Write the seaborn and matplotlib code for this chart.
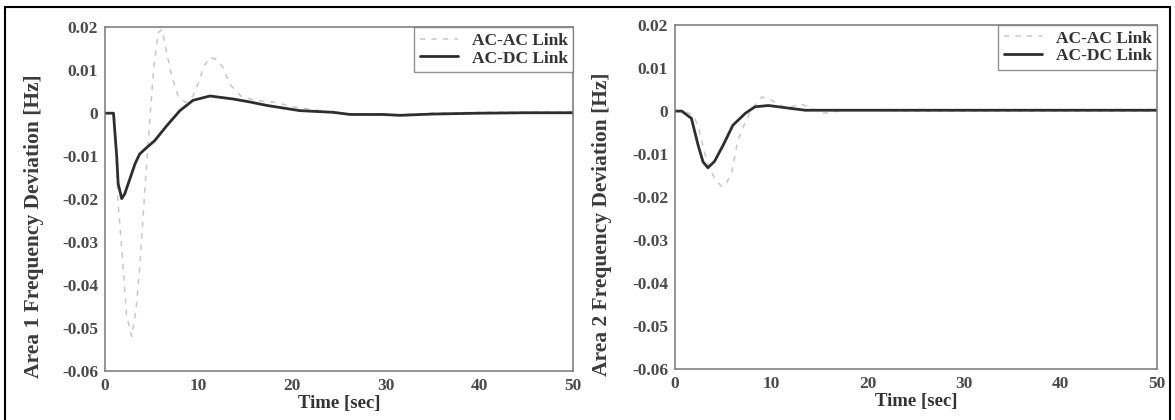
import numpy as np
import pandas as pd
import seaborn as sns
from matplotlib import pyplot as plt
from matplotlib.patches import Rectangle
from matplotlib.ticker import FuncFormatter

# area 1 response
t1_acac = [0, 1.0, 1.4, 1.8, 2.3, 2.85, 3.3, 3.7, 4.3, 4.8, 5.2, 5.7, 6.1, 6.4, 7.1, 7.8, 8.6,
           9.4, 10.1, 10.5, 11.2, 11.9, 12.6, 13.3, 14.5, 16.0, 18.3, 20, 25, 30, 35, 40, 50]
f1_acac = [0, 0, -0.021, -0.032, -0.047, -0.052, -0.046, -0.036, -0.0164, -0.001, 0.0107, 0.0188,
           0.0195, 0.016, 0.0088, 0.004, 0.0025, 0.004, 0.0077, 0.0107, 0.013, 0.0125, 0.0107,
           0.0068, 0.004, 0.003, 0.0025, 0.0015, 0, -0.0005, 0, 0.0002, 0.0003]
t1_acdc = [0, 0.9, 1.25, 1.4, 1.78, 2.1, 2.7, 3.2, 3.7, 4.3, 5.3, 6.6, 8.0, 9.4, 11.2, 13.7,
           15.5, 17.3, 20.8, 24.4, 26.2, 29.7, 31.5, 35, 40, 45, 50]
f1_acdc = [0, 0, -0.0102, -0.0164, -0.0199, -0.0188, -0.015, -0.0118, -0.0095, -0.0083, -0.0064,
           -0.0029, 0.0006, 0.003, 0.004, 0.0033, 0.0026, 0.0018, 0.0006, 0.0002, -0.0003,
           -0.0003, -0.0005, -0.0002, 0, 0.0001, 0.0001]

# area 2 response
t2_acac = [0, 1.0, 1.9, 2.4, 3.3, 4.1, 4.8, 5.3, 5.9, 6.5, 7.3, 8.0, 9.0, 10.0, 11.6, 13.0,
           15.4, 18, 25, 35, 50]
f2_acac = [0, 0, -0.001, -0.0036, -0.0117, -0.0157, -0.0175, -0.017, -0.0141, -0.007, -0.0025,
           0.0006, 0.0033, 0.0025, 0.0006, 0.0017, -0.0005, 0.0003, 0, 0, 0]
t2_acdc = [0, 0.7, 1.7, 2.4, 2.9, 3.4, 4.1, 5.0, 6.0, 7.3, 8.3, 9.7, 11.4, 13.5, 20, 30, 40, 50]
f2_acdc = [0, 0, -0.0017, -0.008, -0.0118, -0.0132, -0.0117, -0.0079, -0.0033, -0.0005, 0.001,
           0.0013, 0.0008, 0.0002, 0.0002, 0.0002, 0.0002, 0.0002]

series_names = ["AC-AC Link", "AC-DC Link"]
ylabels = ["Area 1 Frequency Deviation [Hz]", "Area 2 Frequency Deviation [Hz]"]
yticks = [-0.06, -0.05, -0.04, -0.03, -0.02, -0.01, 0, 0.01, 0.02]
xticks = [0, 10, 20, 30, 40, 50]

sns.set_style("white")
plt.rcParams['font.family'] = ['Liberation Serif', 'DejaVu Serif']

fig = plt.figure(figsize=(11.75, 4.2), dpi=100)
axes = [fig.add_axes([0.0894, 0.117, 0.3983, 0.818]),
        fig.add_axes([0.5745, 0.122, 0.4102, 0.818])]

data = [(t1_acac, f1_acac, t1_acdc, f1_acdc), (t2_acac, f2_acac, t2_acdc, f2_acdc)]

for ax, (ta, fa, td, fd), ylab in zip(axes, data, ylabels):
    sns.lineplot(x=ta, y=fa, ax=ax, color="#c8c8c8", lw=1.1, linestyle=(0, (3.5, 4)),
                 label=series_names[0])
    sns.lineplot(x=td, y=fd, ax=ax, color="#2e2e2e", lw=2.0, label=series_names[1])
    ax.set_xlim(0, 50)
    ax.set_ylim(-0.06, 0.02)
    ax.set_xticks(xticks)
    ax.set_yticks(yticks)
    ax.yaxis.set_major_formatter(FuncFormatter(lambda v, p: "0" if abs(v) < 1e-9 else f"{v:.2f}"))
    ax.tick_params(direction="in", length=3, color="#999999", labelsize=12.5,
                   labelcolor="#4a4a4a", pad=5)
    for lab in ax.get_xticklabels() + ax.get_yticklabels():
        lab.set_fontweight("bold")
    ax.set_xlabel("Time [sec]", fontsize=13.5, fontweight="bold", color="#333333", labelpad=1)
    ax.set_ylabel(ylab, fontsize=15.5, fontweight="bold", color="#3a3a3a")
    ax.yaxis.set_label_coords(-0.131, 0.42)
    for sp in ax.spines.values():
        sp.set_color("#777777")
        sp.set_linewidth(1.1)
    leg = ax.legend(loc="upper right", borderaxespad=0, fancybox=False, fontsize=12.5,
                    handlelength=2.2, frameon=True, borderpad=0.3, labelspacing=0.1)
    leg.get_frame().set_edgecolor("#777777")
    leg.get_frame().set_linewidth(1.0)
    for txt in leg.get_texts():
        txt.set_color("#333333")
        txt.set_fontweight("bold")

# black frame around the whole scanned figure
fig.add_artist(Rectangle((5 / 1175, -0.05), 1165 / 1175, 1 - 7 / 420 + 0.05,
                         transform=fig.transFigure, fill=False, ec="black", lw=1.5))

fig.savefig("out.png", dpi=100)
plt.close()
